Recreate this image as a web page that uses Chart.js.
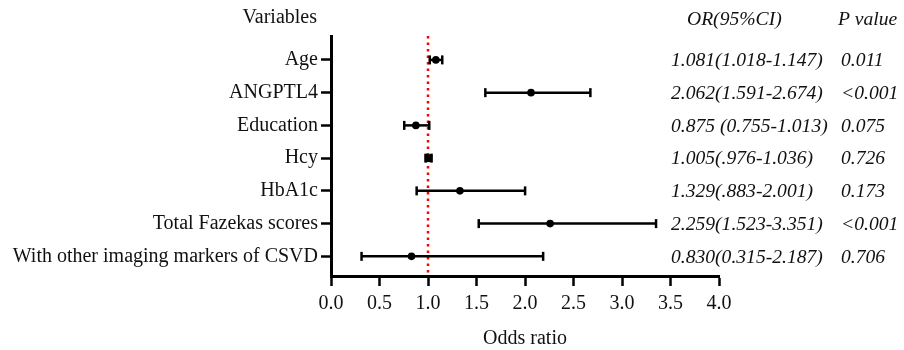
<!DOCTYPE html>
<html>
<head>
<meta charset="utf-8">
<script src="https://cdn.jsdelivr.net/npm/chart.js@4/dist/chart.umd.min.js"></script>
<style>
  body { margin: 0; background: #fff; }
  #wrap { width: 904px; height: 350px; position: relative; }
</style>
</head>
<body>
<div id="wrap"><canvas id="forest"></canvas></div>
<script>
// forest plot data
const variables = ['Age', 'ANGPTL4', 'Education', 'Hcy', 'HbA1c', 'Total Fazekas scores', 'With other imaging markers of CSVD'];
const oddsRatio = [1.081, 2.062, 0.875, 1.005, 1.329, 2.259, 0.830];
const ciLow = [1.018, 1.591, 0.755, 0.976, 0.883, 1.523, 0.315];
const ciHigh = [1.147, 2.674, 1.013, 1.036, 2.001, 3.351, 2.187];
const ciText = ['1.081(1.018-1.147)', '2.062(1.591-2.674)', '0.875 (0.755-1.013)', '1.005(.976-1.036)',
    '1.329(.883-2.001)', '2.259(1.523-3.351)', '0.830(0.315-2.187)'];
const pText = ['0.011', '<0.001', '0.075', '0.726', '0.173', '<0.001', '0.706'];
const markerStyle = ['circle', 'circle', 'circle', 'rect', 'circle', 'circle', 'circle'];
const refValue = 1;

const SERIF = '"Liberation Serif", "Times New Roman", serif';
const Y_MIN = -0.73, Y_MAX = 6.6;

// one dataset per confidence interval, caps drawn as rotated line points
const ciSets = variables.map((v, i) => ({
    label: v + ' CI',
    data: [{ x: ciLow[i], y: i }, { x: ciHigh[i], y: i }],
    showLine: true,
    borderColor: '#000',
    borderWidth: 2.5,
    pointStyle: 'line',
    rotation: 90,
    pointRadius: 4.5,
    pointBorderWidth: 2.5,
    pointBorderColor: '#000',
    order: 2
}));

const sideText = {
    id: 'sideText',
    afterDraw(chart) {
        const ctx = chart.ctx;
        const ys = chart.scales.y;
        ctx.save();
        ctx.fillStyle = '#111';
        ctx.textBaseline = 'middle';
        ctx.font = '20px ' + SERIF;
        ctx.textAlign = 'right';
        ctx.fillText('Variables', 317, 18);
        ctx.textAlign = 'left';
        ctx.font = 'italic 19.6px ' + SERIF;
        ctx.fillText('OR(95%CI)', 687, 20);
        ctx.fillText('P value', 838, 20);
        ciText.forEach((t, i) => {
            const y = ys.getPixelForValue(i) + 1;
            ctx.fillText(t, 671, y);
            ctx.fillText(pText[i], 841, y);
        });
        ctx.restore();
    }
};

new Chart(document.getElementById('forest'), {
    type: 'scatter',
    data: {
        datasets: [
            {
                label: 'OR',
                data: oddsRatio.map((v, i) => ({ x: v, y: i })),
                pointStyle: markerStyle,
                pointRadius: markerStyle.map(s => s === 'rect' ? 5.6 : 3.8),
                backgroundColor: '#000',
                borderColor: '#000',
                borderWidth: 0,
                order: 1
            },
            ...ciSets,
            {
                label: 'ref',
                data: [{ x: refValue, y: Y_MIN }, { x: refValue, y: Y_MAX }],
                showLine: true,
                borderColor: '#ff0000',
                borderWidth: 2.5,
                borderDash: [2.5, 4],
                pointRadius: 0,
                order: 3
            }
        ]
    },
    options: {
        responsive: true,
        maintainAspectRatio: false,
        animation: false,
        layout: { padding: { top: 36, right: 185, left: 0, bottom: 0 } },
        plugins: { legend: { display: false }, tooltip: { enabled: false } },
        scales: {
            x: {
                type: 'linear',
                min: 0, max: 4,
                ticks: { stepSize: 0.5, color: '#111', font: { family: SERIF, size: 20 }, padding: 6,
                    callback: v => v.toFixed(1) },
                grid: { drawOnChartArea: false, tickLength: 10, tickWidth: 2.5, color: '#000' },
                border: { color: '#000', width: 3 },
                title: { display: true, text: 'Odds ratio', color: '#111',
                    font: { family: SERIF, size: 20, lineHeight: 1.1 },
                    padding: { top: 0, bottom: 0 } },
                afterFit(scale) { scale.height = 74; }
            },
            y: {
                type: 'linear',
                reverse: true,
                min: Y_MIN, max: Y_MAX,
                afterBuildTicks(scale) { scale.ticks = variables.map((v, i) => ({ value: i })); },
                ticks: { color: '#111', font: { family: SERIF, size: 20 }, padding: 3,
                    callback: v => variables[v] },
                grid: { drawOnChartArea: false, tickLength: 10, tickWidth: 2.5, color: '#000' },
                border: { color: '#000', width: 3 },
                afterFit(scale) { scale.width = 331; }
            }
        }
    },
    plugins: [sideText]
});
</script>
</body>
</html>
